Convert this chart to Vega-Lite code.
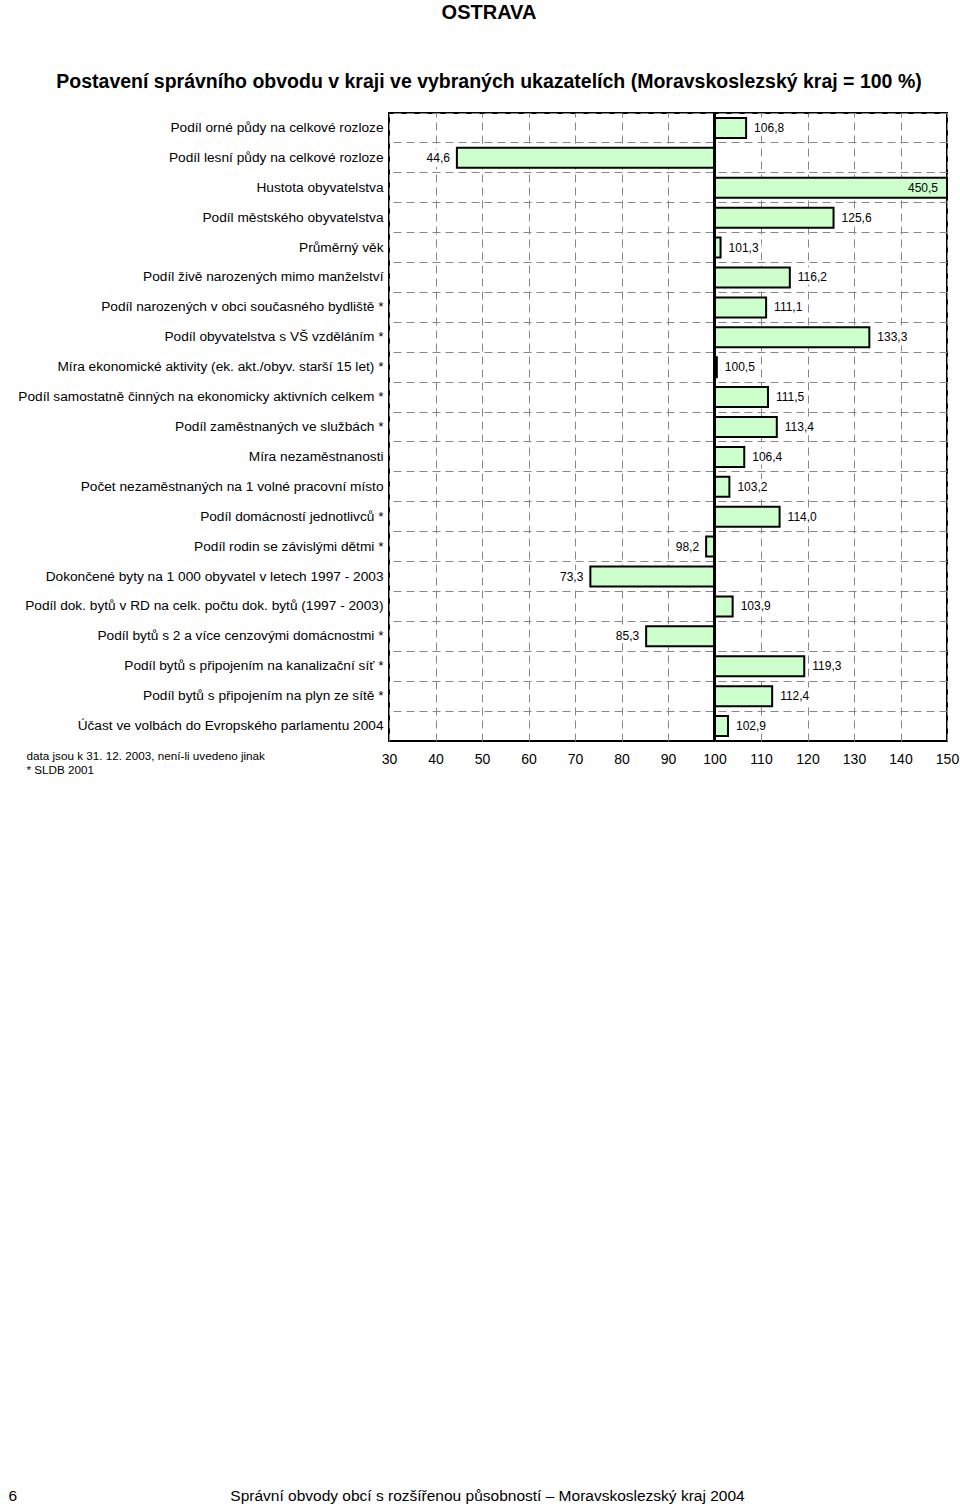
{
  "$schema": "https://vega.github.io/schema/vega-lite/v6.json",
  "autosize": "none",
  "width": 558,
  "height": 628,
  "padding": {"left": 389, "top": 113, "right": 13, "bottom": 763},
  "background": "white",
  "title": {
    "text": "OSTRAVA",
    "subtitle": "Postavení správního obvodu v kraji ve vybraných ukazatelích (Moravskoslezský kraj = 100 %)",
    "anchor": "middle",
    "dx": -179,
    "offset": 21,
    "fontSize": 20,
    "fontWeight": "bold",
    "color": "black",
    "subtitleFontSize": 19.5,
    "subtitleFontWeight": "bold",
    "subtitleColor": "black",
    "subtitlePadding": 50
  },
  "config": {
    "font": "Liberation Sans",
    "locale": {"number": {"decimal": ",", "thousands": " ", "grouping": [3], "currency": ["", " Kč"]}},
    "view": {"stroke": "black", "strokeWidth": 2}
  },
  "data": {
    "values": [
      {"cat": "Podíl orné půdy na celkové rozloze", "value": 106.8},
      {"cat": "Podíl lesní půdy na celkové rozloze", "value": 44.6},
      {"cat": "Hustota obyvatelstva", "value": 450.5},
      {"cat": "Podíl městského obyvatelstva", "value": 125.6},
      {"cat": "Průměrný věk", "value": 101.3},
      {"cat": "Podíl živě narozených mimo manželství", "value": 116.2},
      {"cat": "Podíl narozených v obci současného bydliště *", "value": 111.1},
      {"cat": "Podíl obyvatelstva s VŠ vzděláním *", "value": 133.3},
      {"cat": "Míra ekonomické aktivity (ek. akt./obyv. starší 15 let) *", "value": 100.5},
      {"cat": "Podíl samostatně činných na ekonomicky aktivních celkem *", "value": 111.5},
      {"cat": "Podíl zaměstnaných ve službách *", "value": 113.4},
      {"cat": "Míra nezaměstnanosti", "value": 106.4},
      {"cat": "Počet nezaměstnaných na 1 volné pracovní místo", "value": 103.2},
      {"cat": "Podíl domácností jednotlivců *", "value": 114.0},
      {"cat": "Podíl rodin se závislými dětmi *", "value": 98.2},
      {"cat": "Dokončené byty na 1 000 obyvatel v letech 1997 - 2003", "value": 73.3},
      {"cat": "Podíl dok. bytů v RD na celk. počtu dok. bytů (1997 - 2003)", "value": 103.9},
      {"cat": "Podíl bytů s 2 a více cenzovými domácnostmi *", "value": 85.3},
      {"cat": "Podíl bytů s připojením na kanalizační síť *", "value": 119.3},
      {"cat": "Podíl bytů s připojením na plyn ze sítě *", "value": 112.4},
      {"cat": "Účast ve volbách do Evropského parlamentu 2004", "value": 102.9}
    ]
  },
  "resolve": {"axis": {"y": "independent"}},
  "layer": [
    {
      "mark": {"type": "bar", "fill": "#ccffcc", "stroke": "black", "strokeWidth": 2, "size": 20},
      "encoding": {
        "y": {
          "field": "cat", "type": "nominal", "sort": null,
          "scale": {"paddingInner": 0, "paddingOuter": 0},
          "axis": {
            "orient": "left",
            "grid": false, "ticks": false, "domain": false,
            "labelFontSize": 13.7, "labelColor": "black", "labelPadding": 6, "labelLimit": 420,
            "title": "Správní obvody obcí s rozšířenou působností – Moravskoslezský kraj 2004",
            "titleAngle": 0, "titleX": 98, "titleY": 1382, "titleAlign": "center", "titleBaseline": "middle",
            "titleFontSize": 15.5, "titleFontWeight": "normal", "titleColor": "black"
          }
        },
        "x": {
          "field": "value", "type": "quantitative",
          "scale": {"domain": [30, 150], "clamp": true, "nice": false, "zero": false},
          "axis": {
            "values": [30, 40, 50, 60, 70, 80, 90, 100, 110, 120, 130, 140, 150],
            "grid": true, "gridDash": [8, 5], "gridColor": "#888888", "gridWidth": 1,
            "ticks": false, "domain": false,
            "labelFontSize": 14, "labelColor": "black", "labelPadding": 11, "labelFlush": false, "labelOverlap": false,
            "title": ["data jsou k 31. 12. 2003, není-li uvedeno jinak", "* SLDB 2001"],
            "titleX": -363, "titleY": 9, "titleAlign": "left", "titleBaseline": "top", "titleAnchor": "start",
            "titleFontSize": 11.7, "titleFontWeight": "normal", "titleColor": "black", "titleLineHeight": 14
          }
        },
        "x2": {"datum": 100}
      }
    },
    {
      "mark": {"type": "rule", "color": "black", "strokeWidth": 1.5},
      "encoding": {"x": {"datum": 100}}
    },
    {
      "transform": [{"filter": "datum.value >= 100 && datum.value <= 150"}],
      "mark": {"type": "text", "align": "left", "baseline": "middle", "dx": 8, "fontSize": 12, "color": "white", "stroke": "white", "strokeWidth": 7},
      "encoding": {
        "y": {"field": "cat", "type": "nominal", "sort": null, "axis": null},
        "x": {"field": "value", "type": "quantitative"},
        "text": {"field": "value", "type": "quantitative", "format": ".1f"}
      }
    },
    {
      "transform": [{"filter": "datum.value < 100"}],
      "mark": {"type": "text", "align": "right", "baseline": "middle", "dx": -7, "fontSize": 12, "color": "white", "stroke": "white", "strokeWidth": 7},
      "encoding": {
        "y": {"field": "cat", "type": "nominal", "sort": null, "axis": null},
        "x": {"field": "value", "type": "quantitative"},
        "text": {"field": "value", "type": "quantitative", "format": ".1f"}
      }
    },
    {
      "transform": [{"filter": "datum.value >= 100 && datum.value <= 150"}],
      "mark": {"type": "text", "align": "left", "baseline": "middle", "dx": 8, "fontSize": 12, "color": "black"},
      "encoding": {
        "y": {
          "field": "cat", "type": "nominal", "sort": null,
          "axis": {
            "orient": "right", "grid": true, "gridDash": [8, 5], "gridColor": "#888888", "gridWidth": 1,
            "bandPosition": 0, "labels": false, "ticks": false, "domain": false,
            "title": "6", "titleAngle": 0, "titleX": -939, "titleY": 1382, "titleAlign": "left", "titleBaseline": "middle",
            "titleFontSize": 15.5, "titleFontWeight": "normal", "titleColor": "black"
          }
        },
        "x": {"field": "value", "type": "quantitative"},
        "text": {"field": "value", "type": "quantitative", "format": ".1f"}
      }
    },
    {
      "transform": [{"filter": "datum.value < 100"}],
      "mark": {"type": "text", "align": "right", "baseline": "middle", "dx": -7, "fontSize": 12, "color": "black"},
      "encoding": {
        "y": {"field": "cat", "type": "nominal", "sort": null, "axis": null},
        "x": {"field": "value", "type": "quantitative"},
        "text": {"field": "value", "type": "quantitative", "format": ".1f"}
      }
    },
    {
      "transform": [{"filter": "datum.value > 150"}],
      "mark": {"type": "text", "align": "right", "baseline": "middle", "dx": -9, "fontSize": 12, "color": "black"},
      "encoding": {
        "y": {"field": "cat", "type": "nominal", "sort": null, "axis": null},
        "x": {"field": "value", "type": "quantitative"},
        "text": {"field": "value", "type": "quantitative", "format": ".1f"}
      }
    }
  ]
}
